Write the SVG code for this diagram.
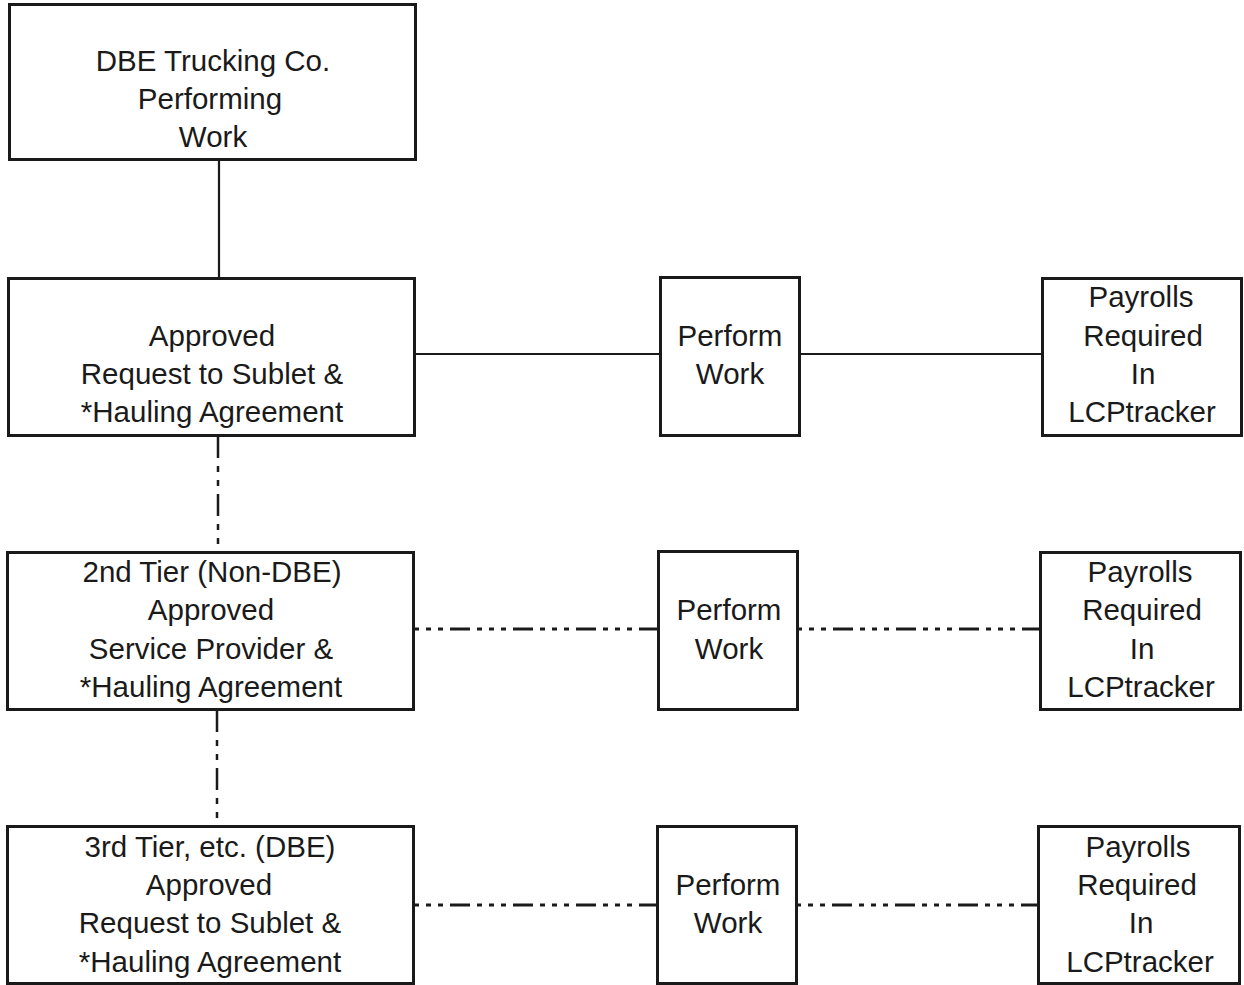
<svg xmlns="http://www.w3.org/2000/svg" width="1244" height="985" viewBox="0 0 1244 985">
<style>
.box{fill:#fff;stroke:#1a1a1a;stroke-width:3}
.t{font-family:"Liberation Sans",Arial,sans-serif;font-size:29.5px;fill:#1a1a1a;text-anchor:middle}
.ln{stroke:#1a1a1a;stroke-width:2.2;fill:none}
.dd{stroke-width:3;stroke-dasharray:5 7 5 7 5 7 20 7}
.vd{stroke-width:2.5;stroke-dasharray:22 8 6 8 6 8}
</style>
<rect width="1244" height="985" fill="#fff"/>
<g id="connectors">
<line class="ln" x1="219" y1="159" x2="219" y2="279"/>
<line class="ln" x1="414" y1="354" x2="660" y2="354"/>
<line class="ln" x1="799" y1="354" x2="1042" y2="354"/>
<line class="ln vd" x1="218" y1="436" x2="218" y2="551"/>
<line class="ln vd" x1="217" y1="710" x2="217" y2="826"/>
<line class="ln dd" x1="414" y1="629" x2="658" y2="629"/>
<line class="ln dd" x1="797" y1="629" x2="1040" y2="629"/>
<line class="ln dd" x1="414" y1="905" x2="657" y2="905"/>
<line class="ln dd" x1="796" y1="905" x2="1038" y2="905"/>
</g>
<g id="dbe">
<rect class="box" x="9.5" y="4.5" width="406" height="155"/>
<text class="t" x="213" y="71">DBE Trucking Co.</text>
<text class="t" x="210" y="109">Performing</text>
<text class="t" x="213" y="147">Work</text>
</g>
<g id="tier1">
<rect class="box" x="8.5" y="278.5" width="406" height="157"/>
<text class="t" x="212" y="346">Approved</text>
<text class="t" x="212" y="384">Request to Sublet &amp;</text>
<text class="t" x="212" y="422">*Hauling Agreement</text>
</g>
<g id="perform1">
<rect class="box" x="660.5" y="277.5" width="139" height="158"/>
<text class="t" x="730" y="346">Perform</text>
<text class="t" x="730" y="384">Work</text>
</g>
<g id="payroll1">
<rect class="box" x="1042.5" y="278.5" width="199" height="157"/>
<text class="t" x="1141" y="307">Payrolls</text>
<text class="t" x="1143" y="346">Required</text>
<text class="t" x="1143" y="384">In</text>
<text class="t" x="1142" y="422">LCPtracker</text>
</g>
<g id="tier2">
<rect class="box" x="7.5" y="552.5" width="406" height="157"/>
<text class="t" x="212" y="582">2nd Tier (Non-DBE)</text>
<text class="t" x="211" y="620">Approved</text>
<text class="t" x="211" y="659">Service Provider &amp;</text>
<text class="t" x="211" y="697">*Hauling Agreement</text>
</g>
<g id="perform2">
<rect class="box" x="658.5" y="551.5" width="139" height="158"/>
<text class="t" x="729" y="620">Perform</text>
<text class="t" x="729" y="659">Work</text>
</g>
<g id="payroll2">
<rect class="box" x="1040.5" y="552.5" width="200" height="157"/>
<text class="t" x="1140" y="582">Payrolls</text>
<text class="t" x="1142" y="620">Required</text>
<text class="t" x="1142" y="659">In</text>
<text class="t" x="1141" y="697">LCPtracker</text>
</g>
<g id="tier3">
<rect class="box" x="7.5" y="826.5" width="406" height="157"/>
<text class="t" x="210" y="857">3rd Tier, etc. (DBE)</text>
<text class="t" x="209" y="895">Approved</text>
<text class="t" x="210" y="933">Request to Sublet &amp;</text>
<text class="t" x="210" y="972">*Hauling Agreement</text>
</g>
<g id="perform3">
<rect class="box" x="657.5" y="826.5" width="139" height="157"/>
<text class="t" x="728" y="895">Perform</text>
<text class="t" x="728" y="933">Work</text>
</g>
<g id="payroll3">
<rect class="box" x="1038.5" y="826.5" width="201" height="157"/>
<text class="t" x="1138" y="857">Payrolls</text>
<text class="t" x="1137" y="895">Required</text>
<text class="t" x="1141" y="933">In</text>
<text class="t" x="1140" y="972">LCPtracker</text>
</g>
</svg>
